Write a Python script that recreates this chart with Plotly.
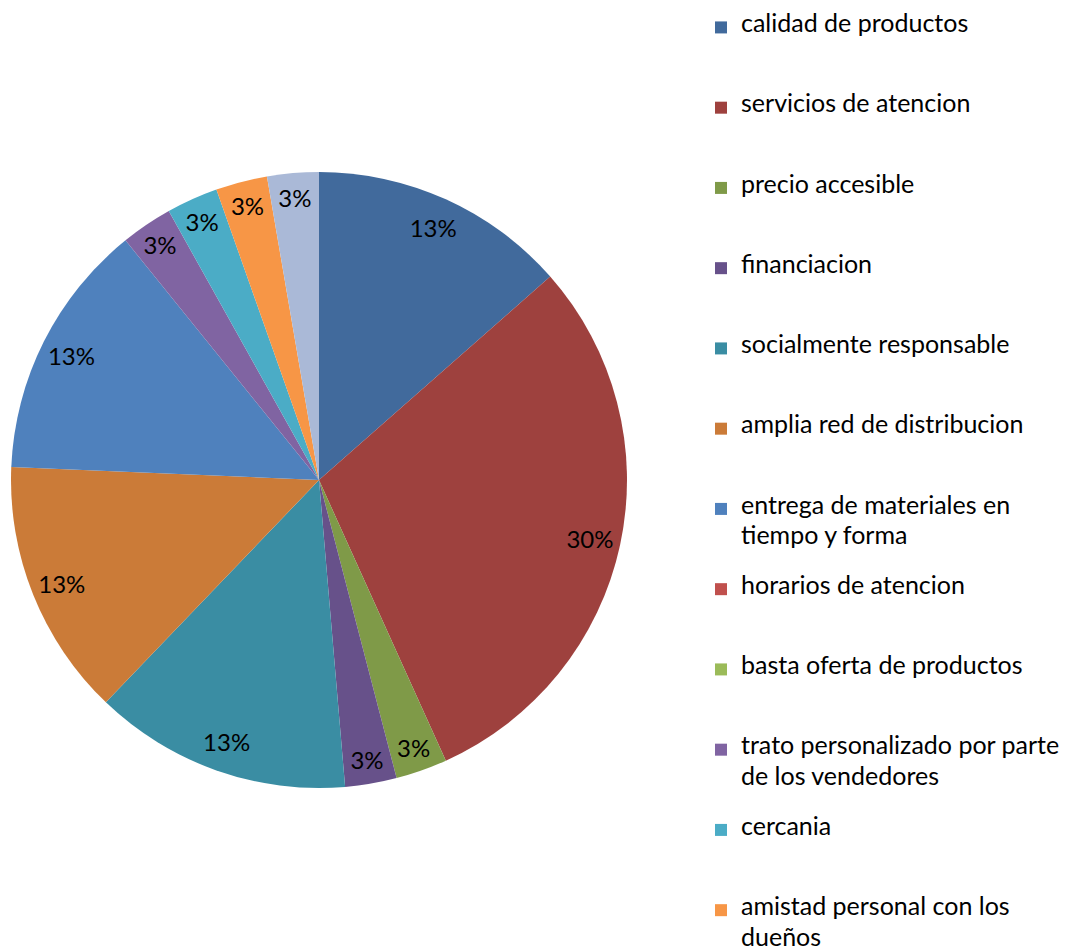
import plotly.graph_objects as go

labels = [
    "calidad de productos",
    "servicios de atencion",
    "precio accesible",
    "financiacion",
    "socialmente responsable",
    "amplia red de distribucion",
    "entrega de materiales en<br>tiempo y forma",
    "horarios de atencion",
    "basta oferta de productos",
    "trato personalizado por parte<br>de los vendedores",
    "cercania",
    "amistad personal con los<br>dueños",
    "otros",
]
values = [5, 11, 1, 1, 5, 5, 5, 0, 0, 1, 1, 1, 1]
pct_labels = ["13%", "30%", "3%", "3%", "13%", "13%", "13%", "", "", "3%", "3%", "3%", "3%"]
colors = ["#416A9C", "#9E413E", "#7F9A48", "#67518A", "#3A8DA3", "#CB7B38",
          "#4F81BD", "#C0504D", "#9BBB59", "#8064A2", "#4BACC6", "#F79646", "#AAB9D7"]

FONT = "Lato"
# each legend entry occupies 5 thin lines; text lines sit on every other line
LINES_PER_ITEM = 5
legend_labels = []
for lab in labels:
    parts = lab.split("<br>")
    styled = "<br> <br>".join('<span style="font-size:25px">%s</span>' % p for p in parts)
    used = 2 * len(parts) - 1
    legend_labels.append(styled + "<br> " * (LINES_PER_ITEM - used))

W, H = 1071, 952
cx, cy, R = 311, 472, 308
dom_x = [(cx - R) / W, (cx + R) / W]
dom_y = [1 - (cy + R) / H, 1 - (cy - R) / H]

fig = go.Figure()
fig.add_trace(go.Pie(
    labels=legend_labels, values=values, sort=False, direction="clockwise", rotation=0,
    marker=dict(colors=colors, line=dict(width=0)),
    textinfo="none", domain=dict(x=dom_x, y=dom_y), hoverinfo="percent",
))
fig.add_trace(go.Pie(
    labels=legend_labels, values=values, sort=False, direction="clockwise", rotation=0,
    hole=0.8, showlegend=False,
    marker=dict(colors=["rgba(0,0,0,0)"] * len(values), line=dict(width=0)),
    text=pct_labels, texttemplate="%{text}",
    textposition="inside", insidetextorientation="horizontal",
    textfont=dict(size=24, color="black", family=FONT),
    domain=dict(x=dom_x, y=dom_y), hoverinfo="skip",
))
fig.update_layout(
    width=W, height=H,
    margin=dict(l=0, r=0, t=0, b=0),
    paper_bgcolor="white", plot_bgcolor="white",
    font=dict(family=FONT, size=20, color="black"),
    legend=dict(x=693 / W, xanchor="left", y=1, yanchor="top", valign="top",
                title=dict(text=" ", font=dict(size=4)),
                font=dict(size=15.45 / 1.3, color="black"), itemwidth=30,
                traceorder="normal", maxheight=1400),
)
fig.write_html("out.html")
